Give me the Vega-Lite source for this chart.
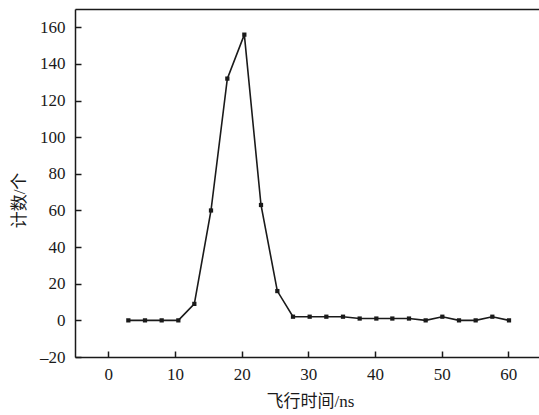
{
  "$schema": "https://vega.github.io/schema/vega-lite/v6.json",
  "width": 470,
  "height": 348,
  "autosize": {"type": "none"},
  "padding": {"left": 75, "top": 9, "right": -6, "bottom": 58},
  "background": "white",
  "config": {
    "view": {"stroke": null},
    "font": "Liberation Serif",
    "axis": {
      "domainColor": "#1a1a1a",
      "domainWidth": 1.5,
      "tickColor": "#1a1a1a",
      "tickWidth": 1.5,
      "tickSize": -6,
      "grid": false,
      "labelFont": "Liberation Serif",
      "labelFontSize": 17,
      "labelColor": "#1a1a1a",
      "titleFont": "Liberation Serif, Noto Sans CJK SC",
      "titleFontSize": 17,
      "titleFontWeight": "normal",
      "titleColor": "#1a1a1a"
    }
  },
  "data": {
    "values": [
      {"t": 3.0, "n": 0}, {"t": 5.5, "n": 0}, {"t": 8.0, "n": 0}, {"t": 10.5, "n": 0},
      {"t": 12.9, "n": 9}, {"t": 15.4, "n": 60}, {"t": 17.85, "n": 132}, {"t": 20.4, "n": 156},
      {"t": 22.9, "n": 63}, {"t": 25.35, "n": 16}, {"t": 27.7, "n": 2}, {"t": 30.2, "n": 2},
      {"t": 32.7, "n": 2}, {"t": 35.2, "n": 2}, {"t": 37.7, "n": 1}, {"t": 40.2, "n": 1},
      {"t": 42.6, "n": 1}, {"t": 45.1, "n": 1}, {"t": 47.6, "n": 0}, {"t": 50.1, "n": 2},
      {"t": 52.6, "n": 0}, {"t": 55.1, "n": 0}, {"t": 57.6, "n": 2}, {"t": 60.1, "n": 0}
    ]
  },
  "encoding": {
    "y": {
      "field": "n", "type": "quantitative",
      "scale": {"domain": [-20, 170], "nice": false, "zero": false},
      "axis": {"values": [-20, 0, 20, 40, 60, 80, 100, 120, 140, 160], "title": "计数/个", "labelPadding": 16, "titleX": -47, "titleY": 191, "labelExpr": "replace(datum.label, '−', '–')"}
    }
  },
  "layer": [
    {
      "mark": {"type": "line", "color": "#1a1a1a", "strokeWidth": 1.6},
      "encoding": {
        "x": {
          "field": "t", "type": "quantitative",
          "scale": {"domain": [-5, 65.5], "nice": false, "zero": false},
          "axis": {"values": [0, 10, 20, 30, 40, 50, 60], "title": "飞行时间/ns", "labelPadding": 15, "titlePadding": 11}
        }
      }
    },
    {
      "mark": {"type": "point", "shape": "square", "filled": true, "color": "#1a1a1a", "size": 18, "opacity": 1},
      "encoding": {
        "x": {
          "field": "t", "type": "quantitative",
          "scale": {"domain": [-5, 65.5], "nice": false, "zero": false},
          "axis": {"orient": "top", "labels": false, "ticks": false, "title": null}
        }
      }
    }
  ],
  "resolve": {"axis": {"x": "independent"}}
}
